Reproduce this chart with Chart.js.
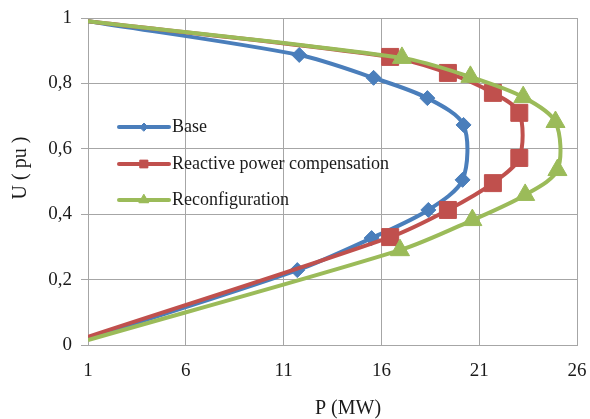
<!DOCTYPE html>
<html>
<head>
<meta charset="utf-8">
<script src="https://cdn.jsdelivr.net/npm/chart.js@4.4.1/dist/chart.umd.min.js"></script>
<style>
    html, body { margin: 0; padding: 0; background: #fff; }
    #wrap { width: 590px; height: 419px; }
</style>
</head>
<body>
<div id="wrap"><canvas id="pv"></canvas></div>
<script>
// values
const baseP = [1, 11.8, 15.6, 18.35, 20.2, 20.15, 18.4, 15.5, 11.7, 1];
const baseU = [0.99, 0.887, 0.817, 0.755, 0.673, 0.505, 0.413, 0.327, 0.229, 0.02];

const reactP = [1, 16.45, 19.4, 21.7, 23.05, 23.05, 21.7, 19.4, 16.45, 1];
const reactU = [0.99, 0.881, 0.832, 0.771, 0.71, 0.572, 0.495, 0.413, 0.33, 0.025];

const reconfP = [1, 17.05, 20.55, 23.25, 24.9, 25.0, 23.35, 20.65, 16.95, 1];
const reconfU = [0.99, 0.878, 0.82, 0.758, 0.682, 0.535, 0.459, 0.382, 0.29, 0.015];

const xTicks = [1, 6, 11, 16, 21, 26];
const yTicks = [0, 0.2, 0.4, 0.6, 0.8, 1];

const serif = "'Liberation Serif', 'DejaVu Serif', serif";
const ink = "#1a1a1a";

function toPoints(xs, ys) {
    return xs.map((x, i) => ({ x: x, y: ys[i] }));
}

// no marker on first/last point
function markerRadius(r, n) {
    let list = [];
    for (let i = 0; i < n; i++) {
        list.push(i == 0 || i == n - 1 ? 0 : r);
    }
    return list;
}

const series = [
    { label: "Base", p: baseP, u: baseU, color: "#4a7ebb", style: "rectRot", r: 7.5, lr: 4, order: 3 },
    { label: "Reactive power compensation", p: reactP, u: reactU, color: "#c0504d", style: "rect", r: 12, lr: 5.5, order: 2 },
    { label: "Reconfiguration", p: reconfP, u: reconfU, color: "#9bbb59", style: "triangle", r: 11, lr: 5.5, order: 1 },
];

// legend sits inside the plot, like the excel original; axis titles drawn here too
const innerLegend = {
    id: "innerLegend",
    afterDraw(chart) {
        const ctx = chart.ctx;
        const rows = [127, 164, 200];
        ctx.save();
        series.forEach((s, i) => {
            const y = rows[i];
            ctx.strokeStyle = s.color;
            ctx.lineWidth = 4;
            ctx.lineCap = "round";
            ctx.beginPath();
            ctx.moveTo(119, y);
            ctx.lineTo(169, y);
            ctx.stroke();
            ctx.fillStyle = s.color;
            ctx.lineWidth = 1;
            Chart.helpers.drawPoint(ctx, { pointStyle: s.style, radius: s.lr, borderWidth: 1 }, 144, y);
            ctx.fill();
            ctx.fillStyle = ink;
            ctx.font = "18px " + serif;
            ctx.textAlign = "left";
            ctx.textBaseline = "middle";
            ctx.fillText(s.label, 172, y);
        });

        ctx.fillStyle = ink;
        ctx.textAlign = "center";
        ctx.textBaseline = "middle";
        ctx.font = "20px " + serif;
        ctx.fillText("P (MW)", 348, 409);

        ctx.translate(21, 168);
        ctx.rotate(-Math.PI / 2);
        ctx.fillText("U ( pu )", 0, 0);
        ctx.restore();
    },
};

new Chart("pv", {
    type: "scatter",
    data: {
        datasets: series.map((s) => ({
            label: s.label,
            data: toPoints(s.p, s.u),
            showLine: true,
            tension: 0.3,
            borderColor: s.color,
            backgroundColor: s.color,
            borderWidth: 4,
            pointStyle: s.style,
            pointRadius: markerRadius(s.r, s.p.length),
            pointBorderWidth: 1,
            pointHoverRadius: 0,
            order: s.order,
        })),
    },
    options: {
        responsive: true,
        maintainAspectRatio: false,
        animation: false,
        layout: {
            padding: { left: 0, right: 13, top: 18, bottom: 0 },
        },
        plugins: {
            legend: { display: false },
            tooltip: { enabled: false },
        },
        scales: {
            x: {
                type: "linear",
                min: 1,
                max: 26,
                afterBuildTicks: (scale) => {
                    scale.ticks = xTicks.map((v) => ({ value: v }));
                },
                afterFit: (scale) => {
                    scale.height = 74;
                    scale.paddingLeft = 0;
                    scale.paddingRight = 0;
                },
                ticks: {
                    color: ink,
                    font: { family: serif, size: 19 },
                    padding: 15,
                },
                grid: { color: "#a6a6a6", lineWidth: 1, drawTicks: false },
                border: { color: "#a6a6a6" },
            },
            y: {
                type: "linear",
                min: 0,
                max: 1,
                afterBuildTicks: (scale) => {
                    scale.ticks = yTicks.map((v) => ({ value: v }));
                },
                afterFit: (scale) => {
                    scale.width = 88;
                    scale.paddingTop = 0;
                    scale.paddingBottom = 0;
                },
                ticks: {
                    color: ink,
                    font: { family: serif, size: 19 },
                    padding: 9,
                    callback: (v) => String(v).replace(".", ","),
                },
                grid: { color: "#a6a6a6", lineWidth: 1, drawTicks: true, tickLength: 7 },
                border: { color: "#a6a6a6" },
            },
        },
    },
    plugins: [innerLegend],
});
</script>
</body>
</html>
